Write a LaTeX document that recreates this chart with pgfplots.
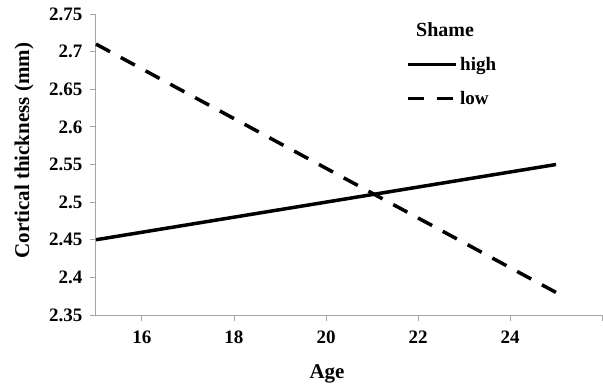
\documentclass[border=0pt]{standalone}
\usepackage{fontspec}
\setmainfont{Liberation Serif}
\usepackage{pgfplots}
\pgfplotsset{compat=1.18}
\begin{document}
\begin{tikzpicture}[x=1pt,y=1pt]
\useasboundingbox (-96,-74) rectangle (507,315);
\begin{axis}[
  at={(0,0)}, anchor=south west,
  scale only axis, width=506pt, height=301pt,
  xmin=15, xmax=26, ymin=2.35, ymax=2.75,
  axis x line*=bottom, axis y line*=left,
  axis line style={gray!70, line width=1pt},
  xtick={16,18,20,22,24,26}, xticklabels={16,18,20,22,24,},
  ytick={2.35,2.4,2.45,2.5,2.55,2.6,2.65,2.7,2.75},
  yticklabels={2.35,2.4,2.45,2.5,2.55,2.6,2.65,2.7,2.75},
  tick style={gray!70, line width=1pt},
  major tick length=6pt,
  tick align=outside,
  every tick label/.append style={font=\fontsize{19}{21}\selectfont\bfseries},
  xticklabel style={yshift=-6pt},
  yticklabel style={xshift=-4pt},
  /pgf/number format/assume math mode=true,
  xlabel={Age}, ylabel={Cortical thickness (mm)},
  label style={font=\fontsize{21}{23}\selectfont\bfseries},
  xlabel style={at={(axis description cs:0.5,0)}, anchor=north, yshift=-46pt, xshift=-22pt},
  ylabel style={at={(rel axis cs:-0.142,0.546)}, anchor=center},
  legend style={at={(axis cs:21.75,2.741)}, anchor=north west, draw=none, fill=none,
    font=\fontsize{19}{21}\selectfont\bfseries, row sep=15pt, inner sep=0pt},
  legend cell align=left,
  legend image code/.code={\draw[#1] (0pt,0pt) -- (48pt,0pt);},
  clip=false,
]
\addlegendimage{empty legend}
\addlegendentry{\hspace{-44pt}\fontsize{20}{22}\selectfont Shame}
\addplot[black, line width=3.5pt] coordinates {(15,2.45) (16,2.46) (17,2.47) (18,2.48) (19,2.49) (20,2.50) (21,2.51) (22,2.52) (23,2.53) (24,2.54) (25,2.55)};
\addlegendentry{high}
\addplot[black, line width=3.5pt, dash pattern=on 16pt off 12.15pt] coordinates {(15,2.71) (25,2.38)};
\addlegendentry{low}
\end{axis}
\end{tikzpicture}
\end{document}
